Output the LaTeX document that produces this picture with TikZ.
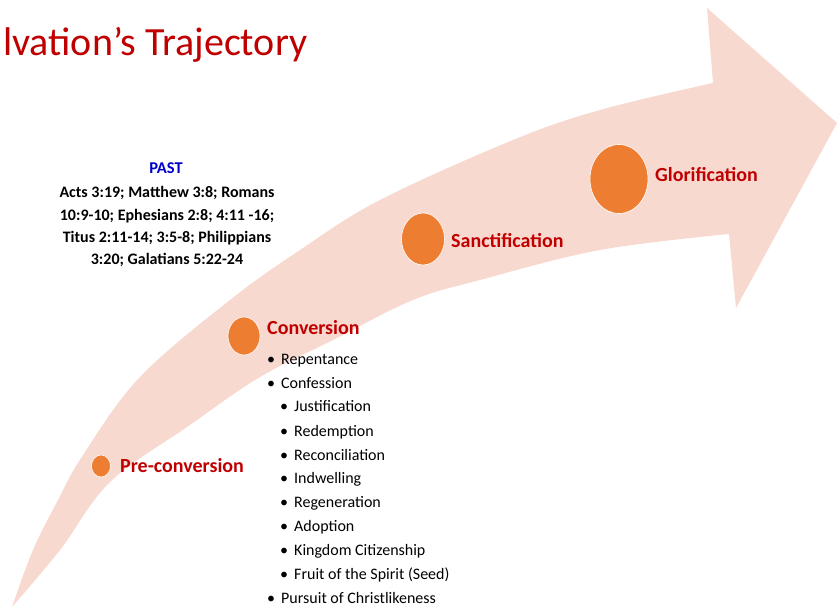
\documentclass[tikz,border=0pt]{standalone}
\usepackage{fontspec}
\setmainfont{Carlito}
\usetikzlibrary{shapes.geometric}
\definecolor{band}{HTML}{F8D9CF}
\definecolor{dot}{HTML}{ED7D31}
\definecolor{lab}{HTML}{C00000}
\definecolor{past}{HTML}{0000CC}
\begin{document}
\begin{tikzpicture}[x=1pt,y=-1pt,
  stage/.style={draw=white,line width=0.6pt,fill=dot,ellipse,inner sep=0pt},
  stagelabel/.style={anchor=base west,inner sep=0pt,text=lab,font=\fontsize{20}{24}\selectfont\bfseries},
  refline/.style={anchor=base,inner sep=0pt,font=\fontsize{16}{19}\selectfont\bfseries},
  item/.style={anchor=base west,inner sep=0pt,font=\fontsize{16}{19}\selectfont}]
\useasboundingbox (0,0) rectangle (837,607);
% curved arrow
\fill[band] plot[smooth,tension=0.6] coordinates {(12,607) (33,550) (58,500) (83,455) (140,377) (230,300) (300,250) (380,200) (513,140) (600,110) (713,83)}
  -- (707,8) -- (837,123) -- (736,308) -- (729,234)
  -- plot[smooth,tension=0.6] coordinates {(729,234) (600,250) (480,280) (413,300) (333,340) (260,377) (187,427) (110,482) (60,550) (12,607)} -- cycle;
% title
\node[anchor=base west,inner sep=0pt,text=lab,font=\fontsize{40}{48}\selectfont] (title) at (3,56) {lvation’s Trajectory};
% stages
\node[stage,minimum width=19pt,minimum height=22pt] (c1) at (101,466) {};
\node[stage,minimum width=32pt,minimum height=38pt] (c2) at (244,336) {};
\node[stage,minimum width=43pt,minimum height=52pt] (c3) at (423,239) {};
\node[stage,minimum width=58pt,minimum height=69pt] (c4) at (619,179) {};
\node[stagelabel] (l1) at (120,472) {Pre-conversion};
\node[stagelabel] (l2) at (267,334) {Conversion};
\node[stagelabel] (l3) at (451,247) {Sanctification};
\node[stagelabel] (l4) at (655,181) {Glorification};
% past block
\node[refline,text=past,font=\fontsize{16.5}{19}\selectfont\bfseries] (p0) at (166,173) {PAST};
\node[refline] (p1) at (167,197) {Acts 3:19; Matthew 3:8; Romans};
\node[refline] (p2) at (167,220) {10:9-10; Ephesians 2:8; 4:11 -16;};
\node[refline] (p3) at (167,242) {Titus 2:11-14; 3:5-8; Philippians};
\node[refline] (p4) at (167,264) {3:20; Galatians 5:22-24};
% bullets
\foreach \n/\x/\y/\t in {
  i1/267/364/Repentance,
  i2/267/388/Confession,
  i3/280/411/Justification,
  i4/280/436/Redemption,
  i5/280/460/Reconciliation,
  i6/280/483/Indwelling,
  i7/280/507/Regeneration,
  i8/280/531/Adoption,
  i9/280/555/Kingdom Citizenship,
  i10/280/579/Fruit of the Spirit (Seed),
  i11/267/603/Pursuit of Christlikeness}
  \node[item] (\n) at (\x,\y) {\makebox[14pt][l]{\hspace{0pt}•}\t};
\end{tikzpicture}
\end{document}
